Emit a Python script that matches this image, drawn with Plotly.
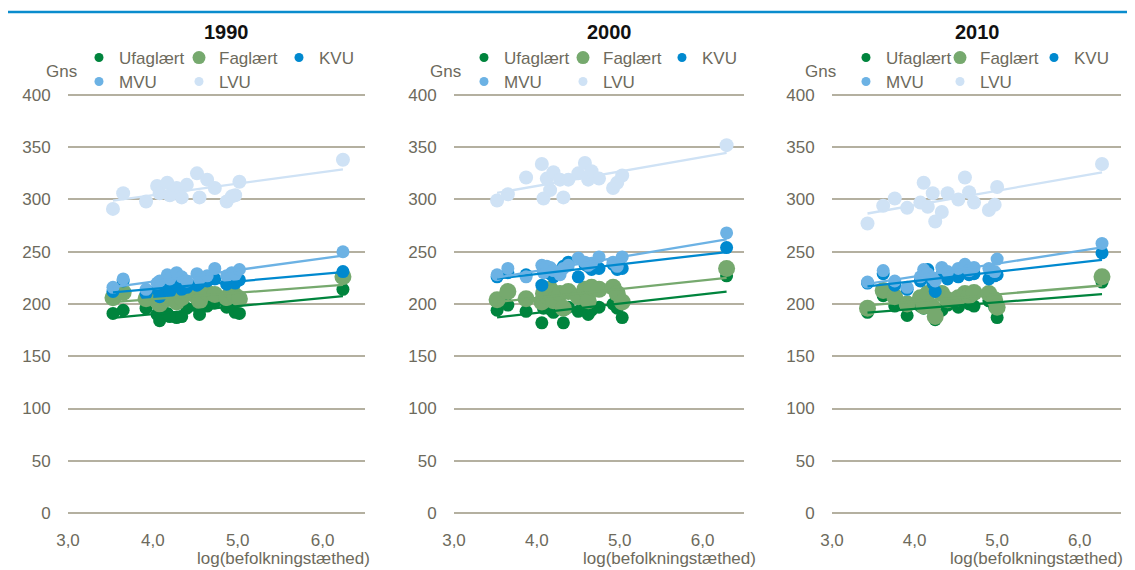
#!/usr/bin/env python3
"""
plot.py - Gennemsnit efter uddannelse mod log(befolkningstæthed), 1990/2000/2010
"""

import numpy as np
import plotly.graph_objects as go

# Data
YEARS = ["1990", "2000", "2010"]
SERIES = ["Ufaglært", "Faglært", "KVU", "MVU", "LVU"]
Y_TICKS = [0, 50, 100, 150, 200, 250, 300, 350, 400]
X_TICKS = [3.0, 4.0, 5.0, 6.0]
X_TITLE = "log(befolkningstæthed)"
Y_TITLE = "Gns"

x_1990 = [3.53, 3.65, 3.92, 4.05, 4.08, 4.17, 4.20, 4.28, 4.34, 4.40,
          4.52, 4.55, 4.64, 4.73, 4.87, 4.93, 4.97, 5.02, 6.24]
ufaglaert_1990 = [191, 194, 196, 190, 184, 191, 188, 187, 188, 196,
                  198, 190, 198, 201, 197, 199, 192, 191, 214]
faglaert_1990 = [206, 211, 205, 203, 200, 205, 208, 202, 206, 210,
                 207, 203, 211, 209, 206, 212, 208, 205, 226]
kvu_1990 = [212, 222, 210, 214, 207, 216, 212, 218, 214, 216,
            218, 220, 222, 224, 219, 222, 220, 223, 231]
mvu_1990 = [216, 224, 214, 220, 222, 228, 224, 230, 226, 222,
            229, 224, 227, 234, 227, 230, 228, 233, 250]
lvu_1990 = [291, 306, 298, 313, 306, 316, 304, 311, 302, 314,
            325, 302, 319, 311, 298, 303, 304, 317, 338]

x_2000 = [3.52, 3.65, 3.87, 4.06, 4.08, 4.12, 4.16, 4.20, 4.28, 4.32,
          4.38, 4.50, 4.58, 4.62, 4.66, 4.75, 4.92, 4.97, 5.03, 6.29]
ufaglaert_2000 = [194, 199, 193, 182, 196, 200, 195, 192, 198, 182,
                  197, 193, 198, 190, 194, 197, 200, 196, 187, 227]
faglaert_2000 = [204, 212, 205, 202, 210, 208, 214, 203, 210, 196,
                 212, 207, 214, 203, 216, 214, 216, 210, 202, 234]
kvu_2000 = [226, 230, 228, 218, 232, 234, 229, 226, 231, 236,
            240, 226, 238, 236, 233, 234, 238, 233, 234, 254]
mvu_2000 = [228, 234, 226, 237, 230, 236, 235, 232, 228, 234,
            237, 244, 240, 237, 239, 245, 240, 236, 245, 268]
lvu_2000 = [299, 305, 321, 334, 301, 320, 309, 326, 319, 302,
            319, 325, 335, 319, 327, 320, 311, 316, 323, 352]

x_2010 = [3.43, 3.62, 3.76, 3.91, 4.07, 4.11, 4.16, 4.22, 4.25, 4.33,
          4.40, 4.53, 4.61, 4.66, 4.72, 4.90, 4.97, 5.00, 6.27]
ufaglaert_2010 = [192, 208, 198, 189, 198, 196, 202, 194, 185, 194,
                  199, 197, 203, 200, 198, 203, 197, 187, 221]
faglaert_2010 = [196, 213, 207, 200, 206, 198, 210, 197, 188, 210,
                 204, 206, 210, 208, 211, 210, 204, 197, 226]
kvu_2010 = [220, 229, 218, 214, 222, 226, 233, 220, 212, 228,
            224, 226, 232, 228, 229, 224, 227, 228, 249]
mvu_2010 = [221, 232, 222, 216, 226, 233, 229, 225, 222, 235,
            231, 234, 238, 232, 235, 234, 231, 243, 258]
lvu_2010 = [277, 294, 301, 292, 297, 316, 293, 306, 279, 288,
            306, 300, 321, 307, 297, 290, 295, 312, 334]

PANELS = [
    (x_1990, [ufaglaert_1990, faglaert_1990, kvu_1990, mvu_1990, lvu_1990]),
    (x_2000, [ufaglaert_2000, faglaert_2000, kvu_2000, mvu_2000, lvu_2000]),
    (x_2010, [ufaglaert_2010, faglaert_2010, kvu_2010, mvu_2010, lvu_2010]),
]

# Stil
W, H = 1135, 570
OFF = 8  # sidens body-margen forskyder figuren
FONT = "Liberation Sans, Arial, sans-serif"
TXT = "#6d6a5c"
GRID = "#b4b0a0"
COLORS = ["#00843d", "#76a96e", "#0089cf", "#6cb2e4", "#cfe2f5"]
SIZES = [13, 17, 13, 13, 14]
LEG_SIZES = [9, 13, 9, 9, 9]
FS = 17

# Placering i pixels (venstre, hoejre kant af plotomraadet)
PANEL_PX = [(68, 365), (454, 744), (832, 1121)]
TITLE_PX = [226, 609, 977]
GNS_PX = [61, 445, 821]
LEG_COL_PX = [(102, 202, 300), (487, 586, 680), (869, 963, 1056)]
XT_PX = [283, 669, 1036]


def fx(p):
    return (p - OFF) / W


def fy(p):
    return 1 - (p - OFF) / H


def label(text, x, y, **kw):
    return dict(text=text, x=fx(x), y=fy(y), xref="paper", yref="paper",
                xanchor="center", yanchor="middle", showarrow=False, **kw)


def build_figure():
    fig = go.Figure()

    for i, (xs, series) in enumerate(PANELS):
        xa = "x" if i == 0 else f"x{i + 1}"
        ya = "y" if i == 0 else f"y{i + 1}"
        # punkter
        for name, ys, col, sz in zip(SERIES, series, COLORS, SIZES):
            fig.add_trace(go.Scatter(
                x=xs, y=ys, mode="markers", xaxis=xa, yaxis=ya,
                marker=dict(size=sz, color=col, line=dict(width=0)),
                name=name, showlegend=False,
            ))
        # lineaere tendenslinjer
        for name, ys, col in zip(SERIES, series, COLORS):
            a, b = np.polyfit(xs, ys, 1)
            xl = np.array([min(xs), max(xs)])
            fig.add_trace(go.Scatter(
                x=xl, y=a * xl + b, mode="lines", xaxis=xa, yaxis=ya,
                line=dict(color=col, width=2.3),
                name=name, showlegend=False, hoverinfo="skip",
            ))
        # legende (to raekker pr. panel)
        for j, (name, col, ls) in enumerate(zip(SERIES, COLORS, LEG_SIZES)):
            row = 0 if j < 3 else 1
            leg_id = 2 * i + row + 1
            fig.add_trace(go.Scatter(
                x=[None], y=[None], mode="markers", xaxis=xa, yaxis=ya,
                marker=dict(size=ls, color=col),
                name=name, legend="legend" if leg_id == 1 else f"legend{leg_id}",
            ))

    layout = dict(
        width=W, height=H,
        margin=dict(l=0, r=0, t=0, b=0, autoexpand=False),
        paper_bgcolor="white", plot_bgcolor="white",
        separators=",.",
        font=dict(family=FONT, size=FS, color=TXT),
        showlegend=True,
    )

    annotations = []
    for i in range(3):
        sfx = "" if i == 0 else str(i + 1)
        l, r = PANEL_PX[i]
        layout[f"xaxis{sfx}"] = dict(
            domain=[fx(l), fx(r)], range=[3, 6.5], anchor=f"y{sfx}",
            tickvals=X_TICKS, tickformat=".1f",
            showgrid=False, zeroline=False, showline=False,
            ticks="outside", ticklen=10, tickcolor="rgba(0,0,0,0)",
            tickfont=dict(size=FS, color=TXT),
        )
        # lidt luft i enderne saa gitterlinjerne 0 og 400 tegnes
        layout[f"yaxis{sfx}"] = dict(
            domain=[fy(514.6), fy(93.4)], range=[-1.5, 401.5], anchor=f"x{sfx}",
            tickvals=Y_TICKS, showgrid=True, gridcolor=GRID, gridwidth=2.2,
            zeroline=False, showline=False,
            ticks="outside", ticklen=13, tickcolor="rgba(0,0,0,0)",
            tickfont=dict(size=FS, color=TXT),
        )
        annotations.append(label(f"<b>{YEARS[i]}</b>", TITLE_PX[i], 32,
                                 font=dict(size=20, color="#111111")))
        annotations.append(label(Y_TITLE, GNS_PX[i], 71))
        annotations.append(label(X_TITLE, XT_PX[i], 558))
        for row, yrow in enumerate([58, 82]):
            leg_id = 2 * i + row + 1
            key = "legend" if leg_id == 1 else f"legend{leg_id}"
            layout[key] = dict(
                orientation="h", x=fx(LEG_COL_PX[i][0] - 23), xanchor="left",
                y=fy(yrow), yanchor="middle",
                bgcolor="rgba(0,0,0,0)", borderwidth=0,
                entrywidth=LEG_COL_PX[i][1] - LEG_COL_PX[i][0] - 45,
                entrywidthmode="pixels",
                font=dict(size=FS, color=TXT, family=FONT),
                itemclick=False, itemdoubleclick=False,
            )

    layout["annotations"] = annotations
    # blaa linje oeverst
    layout["shapes"] = [dict(
        type="line", xref="paper", yref="paper",
        x0=fx(5), x1=1, y0=fy(12), y1=fy(12),
        line=dict(color="#0a8ccd", width=2.5),
    )]
    fig.update_layout(**layout)
    return fig


def main():
    fig = build_figure()
    fig.write_html("out.html")


if __name__ == "__main__":
    main()
